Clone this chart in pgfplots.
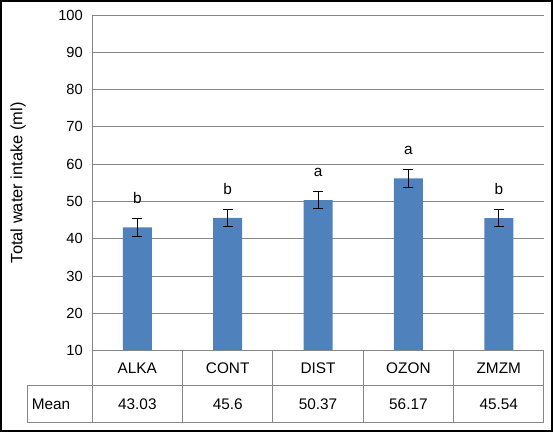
\documentclass[border=0pt]{standalone}
\usepackage{fontspec}
\setmainfont{Liberation Sans}
\usepackage{pgfplots}
\usepackage{pgfplotstable}
\pgfplotsset{compat=1.18}
\definecolor{barblue}{HTML}{4F81BD}
\definecolor{gridgray}{HTML}{868686}

% mean intake, error, group letter
\pgfplotstableread{
x mean err grp
0 43.03 2.4 b
1 45.6 2.2 b
2 50.37 2.3 a
3 56.17 2.4 a
4 45.54 2.3 b
}\intaketable

\begin{document}
\begin{tikzpicture}
\begin{axis}[
  scale only axis,
  width=338.25pt, height=251.25pt,
  xmin=-0.5, xmax=4.5, ymin=10, ymax=100,
  ytick={10,20,...,100},
  xtick={0,1,2,3,4},
  xticklabels={ALKA,CONT,DIST,OZON,ZMZM},
  major tick length=0pt,
  axis line style={draw=none},
  ymajorgrids,
  grid style={gridgray, line width=0.75pt},
  clip=false,
  /pgf/number format/assume math mode=true,
  yticklabel style={font=\fontsize{11}{13}\selectfont, xshift=-3.5pt},
  xticklabel style={font=\fontsize{11.5}{13}\selectfont, anchor=center, yshift=-13.1pt},
  ylabel={Total water intake (ml)},
  ylabel style={at={(rel axis cs:-0.164,0.50)}, anchor=center, font=\fontsize{12.3}{14}\selectfont},
]
% bars with error bars
\addplot[ybar, bar width=21.75pt, bar shift=0pt, fill=barblue, draw=none,
  error bars/.cd, y dir=both, y explicit,
  error bar style={black, line width=0.75pt},
  error mark options={black, line width=0.75pt, mark size=3.75pt, rotate=90}]
  table[x=x, y=mean, y error=err] {\intaketable};
% group letters above the error bars
\addplot[draw=none, mark=none, nodes near coords, point meta=explicit symbolic,
  nodes near coords style={anchor=base, yshift=11.25pt, font=\fontsize{11.5}{13}\selectfont}]
  table[x=x, y expr=\thisrow{mean}+\thisrow{err}, meta=grp] {\intaketable};
% mean row of the data table
\addplot[draw=none, mark=none, nodes near coords, point meta=explicit symbolic,
  nodes near coords style={anchor=center, yshift=-40.1pt, font=\fontsize{11.5}{13}\selectfont}]
  table[x=x, y expr=10, meta=mean] {\intaketable};
\node[anchor=west, font=\fontsize{11.5}{13}\selectfont] at (axis cs:-1.22,-4.37) {Mean};
% data table grid
\draw[gridgray, line width=0.75pt] (axis cs:-0.5,100) -- (axis cs:-0.5,-9.34);
\draw[gridgray, line width=0.75pt] (axis cs:-0.5,10) -- (axis cs:4.5,10);
\draw[gridgray, line width=0.75pt] (axis cs:-1.22,0.6) -- (axis cs:4.5,0.6);
\draw[gridgray, line width=0.75pt] (axis cs:-1.22,-9.34) -- (axis cs:4.5,-9.34);
\draw[gridgray, line width=0.75pt] (axis cs:-1.22,0.6) -- (axis cs:-1.22,-9.34);
\draw[gridgray, line width=0.75pt] (axis cs:0.5,10) -- (axis cs:0.5,-9.34);
\draw[gridgray, line width=0.75pt] (axis cs:1.5,10) -- (axis cs:1.5,-9.34);
\draw[gridgray, line width=0.75pt] (axis cs:2.5,10) -- (axis cs:2.5,-9.34);
\draw[gridgray, line width=0.75pt] (axis cs:3.5,10) -- (axis cs:3.5,-9.34);
\draw[gridgray, line width=0.75pt] (axis cs:4.5,10) -- (axis cs:4.5,-9.34);
% outer frame
\draw[black, line width=1.5pt] (axis cs:-1.509,103.76) rectangle (axis cs:4.589,-11.49);
\end{axis}
\end{tikzpicture}
\end{document}
